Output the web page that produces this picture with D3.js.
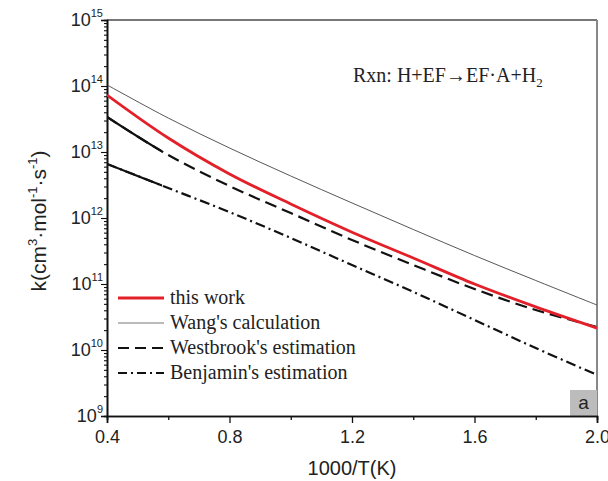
<!DOCTYPE html>
<html><head><meta charset="utf-8">
<script src="https://cdn.jsdelivr.net/npm/d3@7"></script>
<style>
html,body{margin:0;padding:0;background:#fff;}
svg{display:block;}
</style></head>
<body>
<svg id="c" width="608" height="481"></svg>
<script>
// ---- data ----
const invT = [0.4, 0.6, 0.8, 1.0, 1.2, 1.4, 1.6, 1.8, 2.0];
const thisWork  = [7.3e13, 1.63e13, 4.65e12, 1.63e12, 6.1e11, 2.48e11, 1.0e11, 4.5e10, 2.15e10];
const wang      = [1.04e14, 3.27e13, 1.15e13, 4.33e12, 1.69e12, 6.7e11, 2.7e11, 1.13e11, 4.8e10];
const westbrook = [3.39e13, 9.0e12, 3.05e12, 1.19e12, 4.65e11, 1.94e11, 8.4e10, 4.04e10, 2.23e10];
const benjamin  = [6.6e12, 2.85e12, 1.23e12, 4.98e11, 1.94e11, 7.6e10, 2.85e10, 1.07e10, 4.2e9];
const xMajor = [0.4, 0.8, 1.2, 1.6, 2.0];
const xMinor = [0.6, 1.0, 1.4, 1.8];
const yExps = [9, 10, 11, 12, 13, 14, 15];
const legendLabels = ["this work", "Wang's calculation", "Westbrook's estimation", "Benjamin's estimation"];

// ---- layout ----
const L = 107, R = 597, T = 20, B = 416;
const svg = d3.select("#c");
const x = d3.scaleLinear().domain([0.4, 2.0]).range([L, R]);
const y = d3.scaleLog().domain([1e9, 1e15]).range([B, T]);

const yMinor = [];
yExps.slice(0, -1).forEach(e => { for (let m = 2; m <= 9; m++) yMinor.push(m * Math.pow(10, e)); });

// frame top/right
svg.append("line").attr("x1", L).attr("x2", R).attr("y1", T).attr("y2", T)
  .attr("stroke", "#777").attr("stroke-width", 2);
svg.append("line").attr("x1", R).attr("x2", R).attr("y1", T).attr("y2", B)
  .attr("stroke", "#888").attr("stroke-width", 2);

// "a" box
svg.append("rect").attr("x", R - 27).attr("y", B - 26).attr("width", 27).attr("height", 26).attr("fill", "#bcbcbc");
svg.append("text").attr("x", R - 13.5).attr("y", B - 7).attr("text-anchor", "middle")
  .attr("font-family", "Liberation Sans, Arial, sans-serif").attr("font-size", 19).attr("fill", "#222").text("a");

// axes
const fontSans = "Liberation Sans, Arial, sans-serif";
const gx = svg.append("g").attr("transform", `translate(0,${B})`)
  .call(d3.axisBottom(x).tickValues(xMajor).tickSize(7).tickFormat(d3.format(".1f")));
gx.append("g").call(d3.axisBottom(x).tickValues(xMinor).tickSize(4).tickFormat(""));
gx.selectAll(".domain").attr("stroke", "#111").attr("stroke-width", 1.6);
gx.selectAll(".tick line").attr("stroke", "#111").attr("stroke-width", 1.3);
gx.selectAll(".tick text").attr("font-family", fontSans).attr("font-size", 18).attr("fill", "#222").attr("dy", "0.95em");

const gy = svg.append("g").attr("transform", `translate(${L},0)`)
  .call(d3.axisLeft(y).tickValues(yExps.map(e => Math.pow(10, e))).tickSize(6).tickFormat(""));
gy.append("g").call(d3.axisLeft(y).tickValues(yMinor).tickSize(3).tickFormat(""));
gy.selectAll(".domain").attr("stroke", "#111").attr("stroke-width", 1.6);
gy.selectAll(".tick line").attr("stroke", "#111").attr("stroke-width", 1.1);

// y tick labels with superscripts
yExps.forEach(e => {
  const t = svg.append("text").attr("x", L - 4).attr("y", y(Math.pow(10, e)) + 6)
    .attr("text-anchor", "end").attr("font-family", fontSans).attr("fill", "#222");
  t.append("tspan").attr("font-size", 18).text("10");
  t.append("tspan").attr("font-size", 11).attr("dy", -9).text(String(e));
});

// axis titles
svg.append("text").attr("x", (L + R) / 2).attr("y", 475).attr("text-anchor", "middle")
  .attr("font-family", fontSans).attr("font-size", 20).attr("fill", "#222").text("1000/T(K)");
const yt = svg.append("text").attr("transform", `translate(46,${(T + B) / 2 + 3}) rotate(-90)`)
  .attr("text-anchor", "middle").attr("font-family", fontSans).attr("font-size", 21).attr("fill", "#222");
yt.append("tspan").text("k(cm");
yt.append("tspan").attr("font-size", 13).attr("dy", -9).text("3");
yt.append("tspan").attr("dy", 9).text("·mol");
yt.append("tspan").attr("font-size", 13).attr("dy", -9).text("-1");
yt.append("tspan").attr("dy", 9).text("·s");
yt.append("tspan").attr("font-size", 13).attr("dy", -9).text("-1");
yt.append("tspan").attr("dy", 9).text(")");

// reaction label
const fontSerif = "Liberation Serif, Times New Roman, serif";
const rx = svg.append("text").attr("x", 353).attr("y", 82).attr("font-family", fontSerif)
  .attr("font-size", 20).attr("fill", "#222");
rx.append("tspan").text("Rxn: H+EF\u2192EF\u00B7A+H");
rx.append("tspan").attr("font-size", 13).attr("dy", 5).text("2");

// lines
const line = d3.line().x(d => x(d[0])).y(d => y(d[1])).curve(d3.curveCatmullRom.alpha(0.5));
const pts = arr => invT.map((v, i) => [v, arr[i]]);
const defs = svg.append("defs");
defs.append("clipPath").attr("id", "pc").append("rect")
  .attr("x", L).attr("y", T).attr("width", R - L + 1).attr("height", B - T);
defs.append("clipPath").attr("id", "solidpart").append("rect")
  .attr("x", L).attr("y", T).attr("width", x(0.58) - L).attr("height", B - T);
const g = svg.append("g").attr("clip-path", "url(#pc)");

const series = [
  {data: wang, color: "#444", w: 0.9, dash: null},
  {data: benjamin, color: "#111", w: 2.2, dash: "10,4,2,4"},
  {data: westbrook, color: "#111", w: 2.2, dash: "12,6"},
  {data: thisWork, color: "#e3202a", w: 2.8, dash: null}
];
series.forEach(s => {
  const d = line(pts(s.data));
  g.append("path").attr("d", d).attr("fill", "none")
    .attr("stroke", s.color).attr("stroke-width", s.w).attr("stroke-dasharray", s.dash);
  if (s.dash) {
    g.append("path").attr("d", d).attr("fill", "none").attr("clip-path", "url(#solidpart)")
      .attr("stroke", s.color).attr("stroke-width", s.w);
  }
});

// legend
const legStyles = [
  {color: "#e3202a", w: 3, dash: null},
  {color: "#666", w: 0.9, dash: null},
  {color: "#111", w: 2.2, dash: "11,6"},
  {color: "#111", w: 2.2, dash: "9,4,2,4"}
];
legendLabels.forEach((lab, i) => {
  const cy = 298 + i * 25;
  svg.append("line").attr("x1", 118).attr("x2", 164).attr("y1", cy).attr("y2", cy)
    .attr("stroke", legStyles[i].color).attr("stroke-width", legStyles[i].w)
    .attr("stroke-dasharray", legStyles[i].dash);
  svg.append("text").attr("x", 170).attr("y", cy + 6).attr("font-family", fontSerif)
    .attr("font-size", 20).attr("fill", "#222").text(lab);
});
</script>
</body></html>
